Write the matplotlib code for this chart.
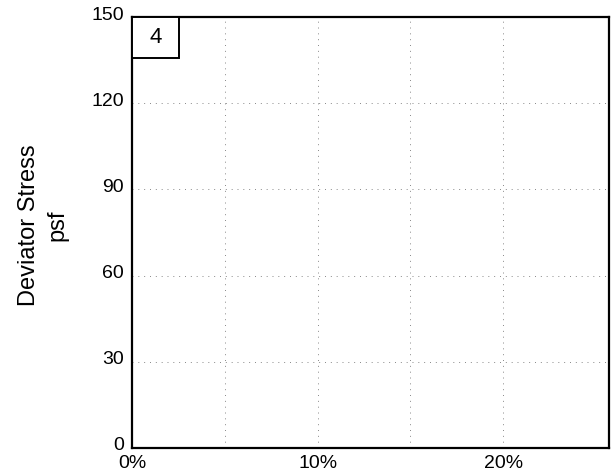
import matplotlib
matplotlib.use("Agg")
import matplotlib.pyplot as plt
import matplotlib.patches as mpatches
import matplotlib.transforms as mtransforms

plt.rcParams.update({
    "font.family": ["Liberation Sans", "DejaVu Sans"],
})

# --- Data --------------------------------------------------------
y_ticks = [0, 30, 60, 90, 120, 150]
x_ticks = [0, 10, 20]
x_tick_labels = ["0%", "10%", "20%"]
x_grid = [5, 10, 15, 20]
y_grid = [30, 60, 90, 120]
panel_label = "4"
x_max = 25.7
y_max = 150

# -----------------------------------------------------------------
fig = plt.figure(figsize=(6.13, 4.76), dpi=100)
ax = fig.add_axes([132 / 613, 1 - 448 / 476, 477 / 613, 431 / 476])

ax.set_xlim(0, x_max)
ax.set_ylim(0, y_max)

for gx in x_grid:
    ax.axvline(gx, color="#888888", linestyle=(0, (1, 5)), linewidth=0.7, zorder=0)
for gy in y_grid:
    ax.axhline(gy, color="#888888", linestyle=(0, (1, 5)), linewidth=0.7, zorder=0)

ax.set_yticks(y_ticks)
ax.set_yticklabels([str(v) for v in y_ticks])
ax.set_xticks(x_ticks)
ax.set_xticklabels(x_tick_labels)
ax.tick_params(axis="both", length=0, labelsize=14)
ax.tick_params(axis="y", pad=6)
ax.tick_params(axis="x", pad=5)

# nudge y labels up a little so "0" clears "0%"
nudge = mtransforms.ScaledTranslation(0, 4 / 100, fig.dpi_scale_trans)
for lbl in ax.get_yticklabels():
    lbl.set_transform(lbl.get_transform() + nudge)

for s in ax.spines.values():
    s.set_linewidth(1.6)
    s.set_color("black")

ax.set_ylabel("Deviator Stress\npsf", fontsize=17, linespacing=1.35)
ax.yaxis.set_label_coords(-0.134, 0.517)

# panel number box in the top-left corner
box_w = 47 / 477
box_h = 41 / 431
ax.add_patch(mpatches.Rectangle((0, 1 - box_h), box_w, box_h, transform=ax.transAxes,
                                facecolor="white", edgecolor="black", linewidth=1.4,
                                zorder=3, clip_on=False))
ax.text(box_w / 2, 1 - box_h / 2, panel_label, transform=ax.transAxes,
        ha="center", va="center", fontsize=16, zorder=4)

fig.savefig("out.png", dpi=100)
